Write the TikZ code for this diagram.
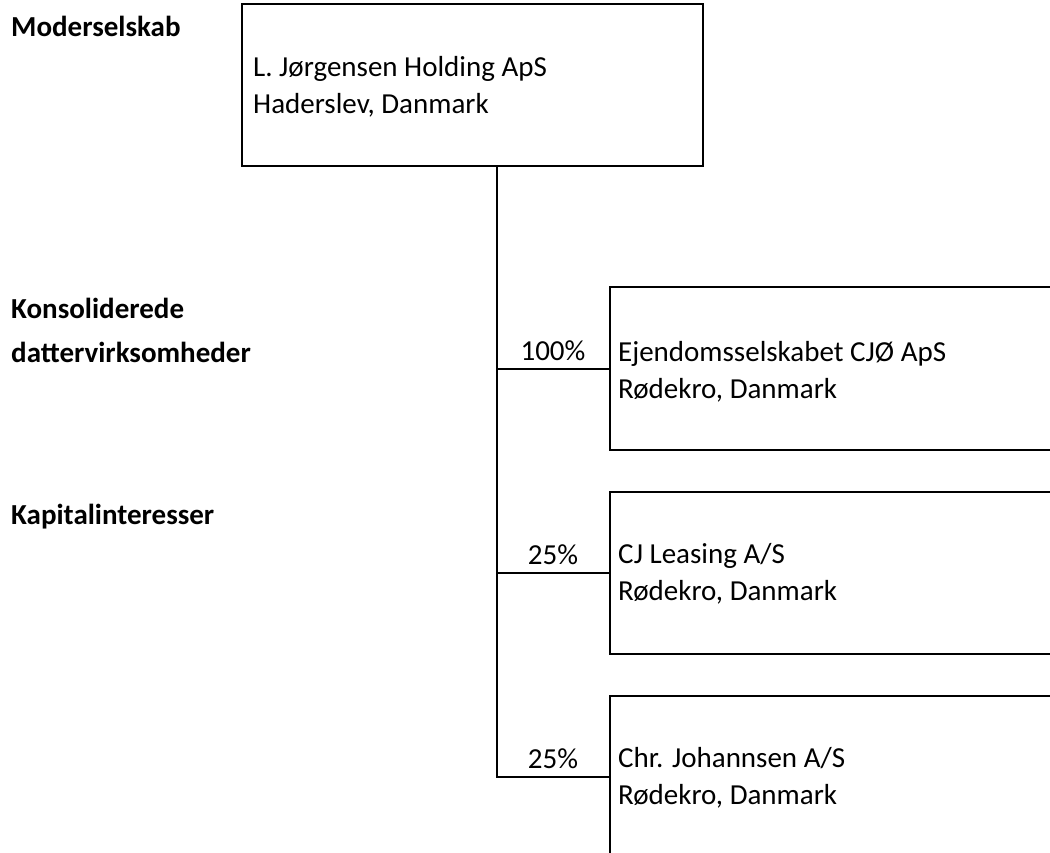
\documentclass[tikz,border=0pt]{standalone}
\usepackage{fontspec}
\setmainfont{Carlito}
\usetikzlibrary{calc}
\begin{document}
\begin{tikzpicture}[x=1pt,y=-1pt,
  box/.style={draw=black,line width=2pt,minimum height=162pt,inner sep=0pt},
  rbox/.style={box,minimum width=470pt,anchor=west},
  txt/.style={anchor=base west,inner sep=0pt,font=\fontsize{29}{37}\selectfont},
  head/.style={anchor=base west,inner sep=0pt,font=\fontsize{29}{44}\selectfont\bfseries,align=left},
  pct/.style={anchor=base,inner sep=0pt,font=\fontsize{29}{34}\selectfont},
  conn/.style={line width=2pt}]
\clip (0,0) rectangle (1050,853);
% boxes
\node[box,minimum width=461pt] (top) at (472.5,85) {};
\node[rbox] (a) at (609,368.5) {};
\node[rbox] (b) at (609,572.5) {};
\node[rbox] (c) at (609,776.5) {};
% box texts
\node[txt] (top1) at (253,77) {L. Jørgensen Holding ApS};
\node[txt] (top2) at (253,114) {Haderslev, Danmark};
\node[txt] (a1) at (618,361) {Ejendomsselskabet CJØ ApS};
\node[txt] (a2) at (618,398) {Rødekro, Danmark};
\node[txt] (b1) at (618,563) {CJ Leasing A/S};
\node[txt] (b2) at (618,600) {Rødekro, Danmark};
\node[txt] (c1) at (618,767) {Chr. Johannsen A/S};
\node[txt] (c2) at (618,804) {Rødekro, Danmark};
% headings
\node[head] (h1) at (11,37) {Moderselskab};
\node[head] (h2) at (11,319) {Konsoliderede};
\node[head] (h2b) at (11,362) {dattervirksomheder};
\node[head] (h3) at (11,524) {Kapitalinteresser};
% connectors
\coordinate (j) at (497,0);
\draw[conn] (top.south -| j) |- (a.west) node[pct,pos=0.75,yshift=8pt] (pa) {100\%};
\draw[conn] (top.south -| j) |- (b.west) node[pct,pos=0.75,yshift=8pt] (pb) {25\%};
\draw[conn] (top.south -| j) |- (c.west) node[pct,pos=0.75,yshift=8pt] (pc) {25\%};
\end{tikzpicture}
\end{document}
